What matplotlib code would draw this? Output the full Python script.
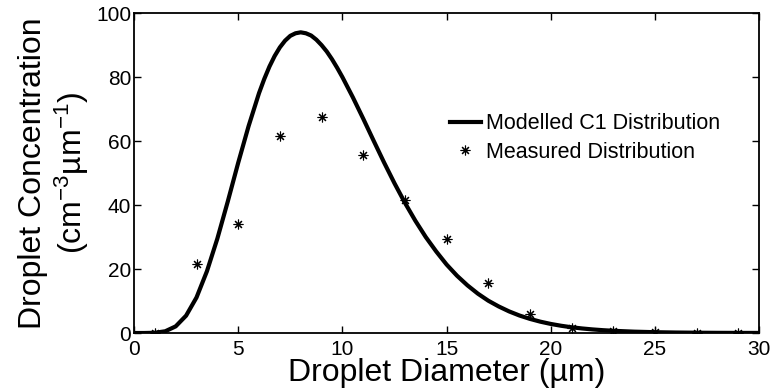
import matplotlib.pyplot as plt

plt.rcParams['font.family'] = ['Liberation Sans', 'DejaVu Sans']
plt.rcParams['mathtext.fontset'] = 'custom'
plt.rcParams['mathtext.rm'] = 'Liberation Sans'
plt.rcParams['mathtext.it'] = 'Liberation Sans'

# modelled C1 distribution
model_d = [0, 0.5, 1, 1.5, 2, 2.5, 3, 3.5, 4, 4.5, 5, 5.5, 6, 6.25, 6.5, 6.75,
           7, 7.25, 7.5, 7.75, 8, 8.25, 8.5, 8.75, 9, 9.25, 9.5, 9.75, 10,
           10.5, 11, 11.5, 12, 12.5, 13, 13.5, 14, 14.5, 15, 15.5, 16, 16.5,
           17, 17.5, 18, 18.5, 19, 19.5, 20, 20.5, 21, 21.5, 22, 22.5, 23, 24,
           25, 26, 27, 28, 29, 30]
model_c = [0, 0.0, 0.07, 0.54, 2.07, 5.42, 11.1, 19.3, 29.5, 41.1, 53.2, 64.7,
           75.0, 79.4, 83.3, 86.6, 89.3, 91.4, 92.9, 93.7, 94.0, 93.7, 93.0,
           91.7, 90.0, 88.0, 85.6, 82.9, 80.0, 73.7, 67.0, 60.1, 53.3, 46.8,
           40.7, 35.1, 30.0, 25.5, 21.4, 17.9, 14.9, 12.3, 10.1, 8.3, 6.75,
           5.46, 4.41, 3.54, 2.83, 2.26, 1.79, 1.42, 1.12, 0.88, 0.69, 0.42,
           0.25, 0.15, 0.09, 0.05, 0.03, 0.02]

# measured points
meas_d = [1, 3, 5, 7, 9, 11, 13, 15, 17, 19, 21, 23, 25, 27, 29]
meas_c = [0, 21.5, 34, 61.5, 67.5, 55.5, 41.5, 29.5, 15.5, 6, 1.5, 0.7, 0.3, 0.1, 0]

fig = plt.figure(figsize=(7.7, 3.92), dpi=100)
ax = fig.add_axes([0.174, 0.1505, 0.812, 0.816])

ax.plot(model_d, model_c, color='black', lw=3, label='Modelled C1 Distribution')
ax.plot(meas_d, meas_c, ls='none', marker=(8, 2, 0), ms=7, mew=0.8,
        color='black', label='Measured Distribution')

ax.set_xlim(0, 30)
ax.set_ylim(0, 100)
ax.set_xticks(range(0, 31, 5))
ax.set_yticks(range(0, 101, 20))
ax.tick_params(direction='in', top=True, right=True, length=5, width=1,
               labelsize=15, pad=2)
ax.tick_params(axis='x', pad=5)
for s in ax.spines.values():
    s.set_linewidth(1.3)

ax.set_xlabel('Droplet Diameter (\u00b5m)', fontsize=23, labelpad=-1)
ax.set_ylabel('Droplet Concentration\n(cm$^{-3}$\u00b5m$^{-1}$)', fontsize=23,
              labelpad=4, linespacing=1.15)

ax.legend(loc='upper left', bbox_to_anchor=(0.505, 0.687), frameon=False,
          fontsize=15.5, handlelength=1.45, handletextpad=0.25,
          labelspacing=0.35, borderaxespad=0, borderpad=0)

fig.savefig('out.png', dpi=100)
